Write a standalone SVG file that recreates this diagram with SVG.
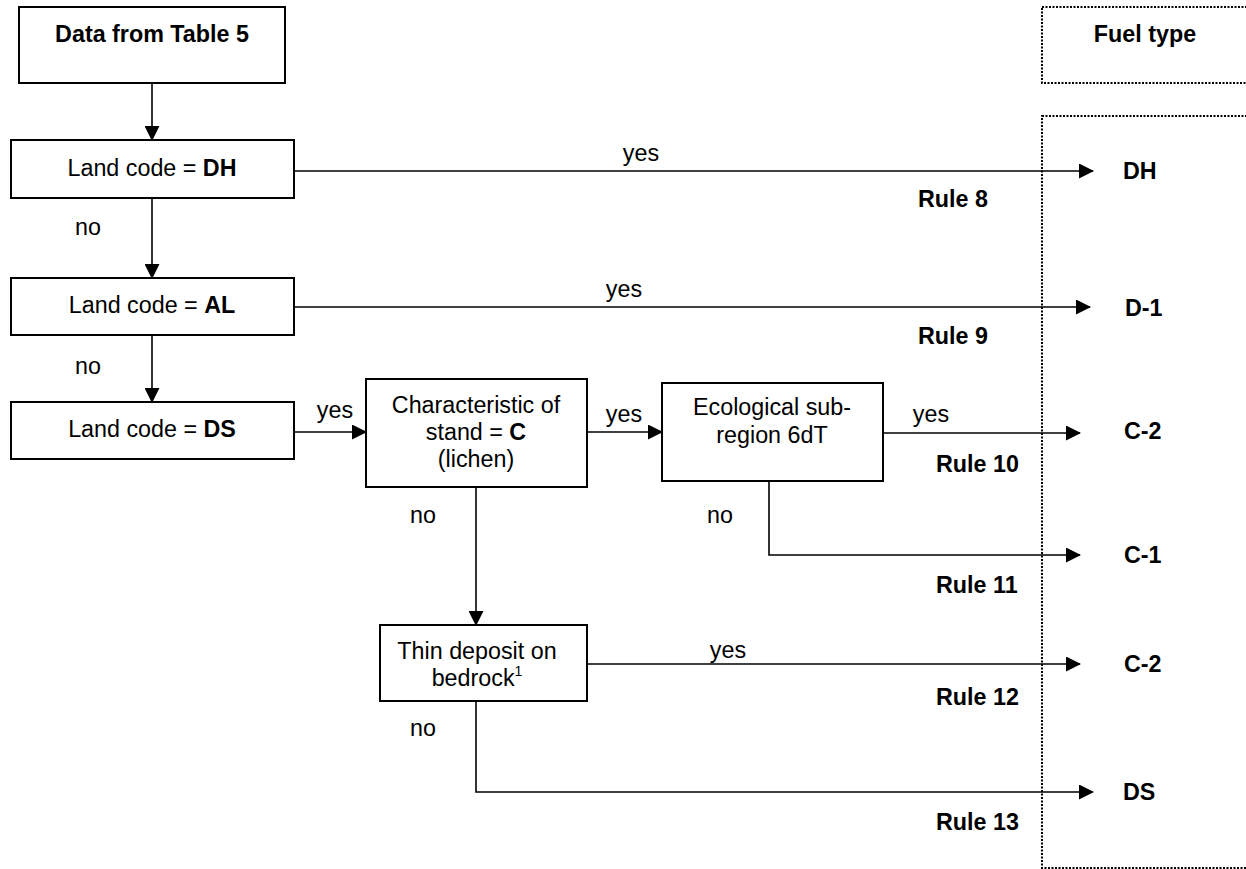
<svg xmlns="http://www.w3.org/2000/svg" width="1246" height="869" viewBox="0 0 1246 869">
<defs>
<marker id="arr" markerUnits="userSpaceOnUse" markerWidth="15" markerHeight="15" refX="14" refY="7.5" orient="auto">
<path d="M0,0 L15,7.5 L0,15 Z" fill="#000"/>
</marker>
<style>
text{font-family:"Liberation Sans",Arial,sans-serif;font-size:23.3px;fill:#000}
.b{font-weight:bold}
.m{text-anchor:middle}
.box{fill:#fff;stroke:#000;stroke-width:2}
.dot{fill:none;stroke:#000;stroke-width:2;stroke-dasharray:2 1.5}
.c{fill:none;stroke:#000;stroke-width:1.6}
.ca{fill:none;stroke:#000;stroke-width:1.6;marker-end:url(#arr)}
</style>
</defs>
<rect width="1246" height="869" fill="#fff"/>

<g id="fuel-header">
<rect class="dot" x="1042" y="7" width="230" height="76"/>
<text class="b m" x="1145" y="42">Fuel type</text>
</g>
<g id="fuel-column">
<rect class="dot" x="1042" y="116" width="230" height="752"/>
</g>

<g id="connectors">
<line class="ca" x1="152" y1="83" x2="152" y2="140"/>
<line class="ca" x1="294" y1="171" x2="1093" y2="171"/>
<line class="ca" x1="152" y1="198" x2="152" y2="278"/>
<line class="ca" x1="294" y1="307" x2="1090" y2="307"/>
<line class="ca" x1="152" y1="335" x2="152" y2="402"/>
<line class="ca" x1="294" y1="432" x2="366" y2="432"/>
<line class="ca" x1="587" y1="432" x2="662" y2="432"/>
<line class="ca" x1="883" y1="433" x2="1080" y2="433"/>
<polyline class="ca" points="769,481 769,555 1080,555"/>
<line class="ca" x1="476" y1="487" x2="476" y2="625"/>
<line class="ca" x1="587" y1="664" x2="1080" y2="664"/>
<polyline class="ca" points="476,701 476,792 1093,792"/>
<text class="m" x="641" y="161">yes</text>
<text x="918" y="207" class="b">Rule 8</text>
<text x="75" y="235">no</text>
<text class="m" x="624" y="297">yes</text>
<text x="918" y="344" class="b">Rule 9</text>
<text x="75" y="374">no</text>
<text class="m" x="335" y="418">yes</text>
<text class="m" x="624" y="422">yes</text>
<text class="m" x="931" y="422">yes</text>
<text x="936" y="472" class="b">Rule 10</text>
<text x="410" y="523">no</text>
<text x="707" y="523">no</text>
<text x="936" y="593" class="b">Rule 11</text>
<text class="m" x="728" y="658">yes</text>
<text x="936" y="705" class="b">Rule 12</text>
<text x="410" y="736">no</text>
<text x="936" y="830" class="b">Rule 13</text>
</g>

<g id="data-table5">
<rect class="box" x="19" y="7" width="266" height="76"/>
<text class="b m" x="152" y="42">Data from Table 5</text>
</g>
<g id="land-dh">
<rect class="box" x="11" y="140" width="283" height="58"/>
<text class="m" x="152" y="176">Land code = <tspan class="b">DH</tspan></text>
</g>
<g id="land-al">
<rect class="box" x="11" y="278" width="283" height="57"/>
<text class="m" x="152" y="313">Land code = <tspan class="b">AL</tspan></text>
</g>
<g id="land-ds">
<rect class="box" x="11" y="402" width="283" height="57"/>
<text class="m" x="152" y="437">Land code = <tspan class="b">DS</tspan></text>
</g>
<g id="char-stand">
<rect class="box" x="366" y="379" width="221" height="108"/>
<text class="m" x="476" y="413">Characteristic of</text>
<text class="m" x="476" y="440">stand = <tspan class="b">C</tspan></text>
<text class="m" x="476" y="467">(lichen)</text>
</g>
<g id="eco-subregion">
<rect class="box" x="662" y="383" width="221" height="98"/>
<text class="m" x="772" y="415">Ecological sub-</text>
<text class="m" x="772" y="443">region 6dT</text>
</g>
<g id="thin-deposit">
<rect class="box" x="380" y="625" width="207" height="76"/>
<text class="m" x="477" y="659">Thin deposit on</text>
<text class="m" x="477" y="686">bedrock<tspan font-size="14" dy="-10">1</tspan></text>
</g>

<g id="out-dh"><text class="b" x="1123" y="179">DH</text></g>
<g id="out-d1"><text class="b" x="1125" y="316">D-1</text></g>
<g id="out-c2a"><text class="b" x="1124" y="439">C-2</text></g>
<g id="out-c1"><text class="b" x="1124" y="563">C-1</text></g>
<g id="out-c2b"><text class="b" x="1124" y="672">C-2</text></g>
<g id="out-ds"><text class="b" x="1123" y="800">DS</text></g>
</svg>
